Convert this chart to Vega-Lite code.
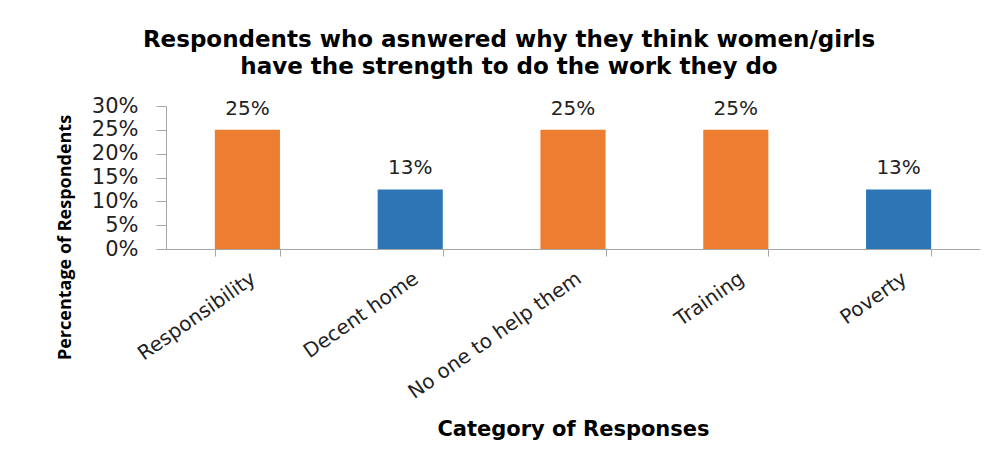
{
  "$schema": "https://vega.github.io/schema/vega-lite/v6.json",
  "width": 814,
  "height": 143,
  "padding": {"left": 55, "top": 29, "right": 18, "bottom": 5},
  "background": "white",
  "title": {
    "text": ["Respondents who asnwered why they think women/girls", "have the strength to do the work they do"],
    "font": "DejaVu Sans",
    "fontSize": 23,
    "fontWeight": "bold",
    "color": "#000000",
    "lineHeight": 27,
    "anchor": "middle",
    "dx": -64,
    "offset": 16
  },
  "data": {
    "values": [
      {"category": "Responsibility", "value": 0.25, "group": "high"},
      {"category": "Decent home", "value": 0.125, "group": "low"},
      {"category": "No one to help them", "value": 0.25, "group": "high"},
      {"category": "Training", "value": 0.25, "group": "high"},
      {"category": "Poverty", "value": 0.125, "group": "low"}
    ]
  },
  "encoding": {
    "x": {
      "field": "category",
      "type": "nominal",
      "sort": null,
      "scale": {"paddingInner": 0.6, "paddingOuter": 0.3},
      "axis": {
        "title": "Category of Responses",
        "titleFont": "DejaVu Sans",
        "titleFontSize": 21,
        "titleFontWeight": "bold",
        "titleColor": "#000000",
        "titlePadding": 16,
        "labelAngle": -35,
        "labelLimit": 400,
        "labelFont": "DejaVu Sans",
        "labelFontSize": 20,
        "labelColor": "#222222",
        "labelPadding": 12,
        "tickBand": "extent",
        "tickColor": "#a6a6a6",
        "tickSize": 7,
        "domainColor": "#a6a6a6"
      }
    },
    "y": {
      "field": "value",
      "type": "quantitative",
      "scale": {"domain": [0, 0.3]},
      "axis": {
        "title": "Percentage of Respondents",
        "titleFont": "Open Sans",
        "titleFontSize": 18,
        "titleFontWeight": "bold",
        "titleColor": "#000000",
        "titleY": 131,
        "titleX": -92,
        "format": ".0%",
        "values": [0, 0.05, 0.1, 0.15, 0.2, 0.25, 0.3],
        "grid": false,
        "labelFont": "DejaVu Sans",
        "labelFontSize": 21,
        "labelColor": "#222222",
        "labelPadding": 18,
        "tickColor": "#a6a6a6",
        "tickSize": 10,
        "domainColor": "#a6a6a6"
      }
    }
  },
  "layer": [
    {
      "mark": {"type": "bar"},
      "encoding": {
        "color": {
          "field": "group",
          "type": "nominal",
          "scale": {"domain": ["high", "low"], "range": ["#ED7D31", "#2E75B6"]},
          "legend": null
        }
      }
    },
    {
      "mark": {"type": "text", "baseline": "bottom", "dy": -11, "font": "DejaVu Sans", "fontSize": 20, "color": "#222222"},
      "encoding": {
        "text": {"field": "value", "type": "quantitative", "format": ".0%"}
      }
    }
  ],
  "config": {
    "view": {"stroke": null}
  }
}
